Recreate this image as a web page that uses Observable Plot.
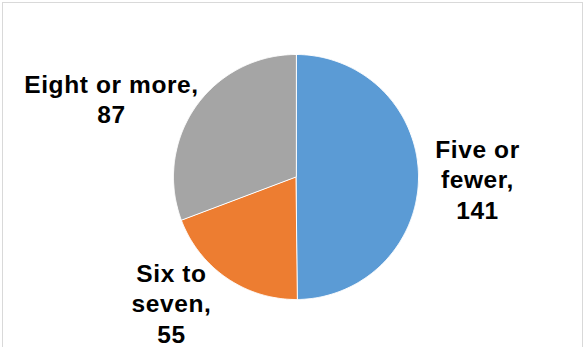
<!DOCTYPE html>
<html>
<head>
<meta charset="utf-8">
<script src="https://cdn.jsdelivr.net/npm/d3@7"></script>
<script src="https://cdn.jsdelivr.net/npm/@observablehq/plot@0.6"></script>
<style>
  html, body { margin: 0; padding: 0; background: #fff; overflow: hidden; }
  #wrap { position: relative; width: 587px; height: 347px; overflow: hidden; }
  #frame { position: absolute; left: 2px; top: 2px; width: 581px; height: 400px; border: 1.5px solid #d9d9d9; box-sizing: border-box; pointer-events: none; }
  #chart { position: absolute; left: 0; top: 0; }
  #chart text { letter-spacing: 0.6px; }
</style>
</head>
<body>
<div id="wrap"><div id="chart"></div><div id="frame"></div></div>
<script>
// Data
const categories = ["Five or fewer", "Six to seven", "Eight or more"];
const values = [141, 55, 87];
const colors = ["#5B9BD5", "#ED7D31", "#A5A5A5"];
const labelLines = [["Five or", "fewer,", "141"], ["Six to", "seven,", "55"], ["Eight or more,", "87"]];

// Layout (pixel space)
const W = 587, H = 347;
const cx = 295.5, cy = 176.5, R = 122.5;
const labelPos = [[477, 178], [171, 302], [111, 97.5]];

const pie = d3.pie().sort(null).value(d => d.value)(categories.map((c, i) => ({category: c, value: values[i], color: colors[i]})));

const pts = [];
pie.forEach(s => {
  const a0 = s.startAngle, a1 = s.endAngle;
  const n = Math.max(2, Math.ceil((a1 - a0) / (Math.PI / 360)));
  pts.push({category: s.data.category, x: cx, y: cy});
  for (let k = 0; k <= n; k++) {
    const a = a0 + (a1 - a0) * k / n;
    pts.push({category: s.data.category, x: cx + R * Math.sin(a), y: cy - R * Math.cos(a)});
  }
});

const labels = categories.map((c, i) => ({
  category: c,
  text: labelLines[i].join("\n"),
  x: labelPos[i][0],
  y: labelPos[i][1]
}));

const chart = Plot.plot({
  width: W,
  height: H,
  margin: 0,
  x: {domain: [0, W], range: [0, W], axis: null},
  y: {domain: [0, H], range: [0, H], axis: null},
  color: {domain: categories, range: colors},
  style: {background: "transparent"},
  marks: [
    Plot.line(pts, {x: "x", y: "y", z: "category", fill: "category", stroke: "white", strokeWidth: 1, curve: "linear-closed"}),
    Plot.text(labels, {
      x: "x", y: "y", text: "text",
      fontSize: 24.5, fontWeight: "bold",
      fontFamily: "Liberation Sans, Arial, sans-serif",
      fill: "black", textAnchor: "middle", lineAnchor: "middle", lineHeight: 1.24
    })
  ]
});
document.getElementById("chart").appendChild(chart);
</script>
</body>
</html>
